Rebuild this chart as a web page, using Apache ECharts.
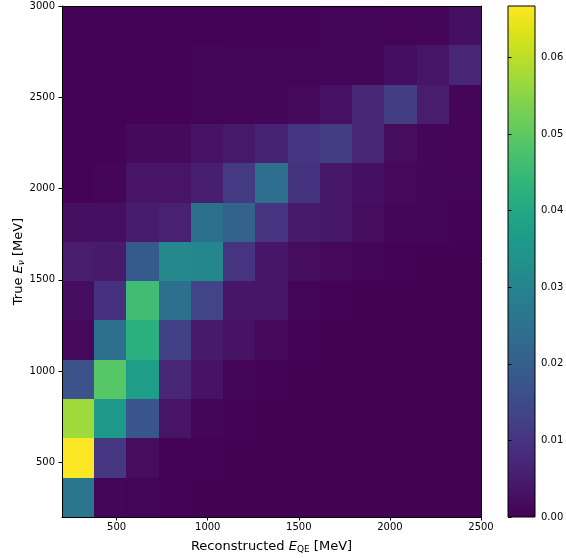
<!DOCTYPE html>
<html>
<head>
<meta charset="utf-8">
<script src="https://cdn.jsdelivr.net/npm/echarts@6/dist/echarts.min.js"></script>
<style>html,body{margin:0;padding:0;background:#fff}#c{width:566px;height:558px}</style>
</head>
<body>
<div id="c"></div>
<script>
// Bin edges (MeV)
const xEdges = [200, 376.9, 553.8, 730.8, 907.7, 1084.6, 1261.5, 1438.5, 1615.4, 1792.3, 1969.2, 2146.2, 2323.1, 2500];
const yEdges = [200, 415.4, 630.8, 846.2, 1061.5, 1276.9, 1492.3, 1707.7, 1923.1, 2138.5, 2353.8, 2569.2, 2784.6, 3000];
// Tick labels
const xTicks = [500, 1000, 1500, 2000, 2500];
const yTicks = [500, 1000, 1500, 2000, 2500, 3000];
const cbTicks = [0, 0.01, 0.02, 0.03, 0.04, 0.05, 0.06];
const cbMax = 0.0667;
// Cell values, one array per true-energy row (bottom to top), columns = reconstructed-energy bins
const row0  = [0.026, 0.0008, 0.0005, 0.0003, 0.0002, 0.0002, 0.0002, 0.0002, 0.0002, 0.0002, 0.0002, 0.0002, 0.0002];
const row1  = [0.0667, 0.0107, 0.002, 0.0004, 0.0003, 0.0002, 0.0002, 0.0002, 0.0002, 0.0002, 0.0002, 0.0002, 0.0002];
const row2  = [0.057, 0.036, 0.0175, 0.0035, 0.0008, 0.0003, 0.0002, 0.0002, 0.0002, 0.0002, 0.0002, 0.0002, 0.0002];
const row3  = [0.0167, 0.049, 0.037, 0.0073, 0.0033, 0.001, 0.0004, 0.0002, 0.0002, 0.0002, 0.0002, 0.0002, 0.0002];
const row4  = [0.0013, 0.0245, 0.042, 0.0127, 0.0047, 0.0033, 0.0013, 0.0003, 0.0002, 0.0002, 0.0002, 0.0002, 0.0002];
const row5  = [0.002, 0.0093, 0.046, 0.0245, 0.0135, 0.004, 0.0037, 0.0005, 0.0003, 0.0002, 0.0002, 0.0002, 0.0002];
const row6  = [0.0053, 0.0047, 0.0187, 0.031, 0.0307, 0.01, 0.004, 0.002, 0.0013, 0.0005, 0.0003, 0.0002, 0.0002];
const row7  = [0.0027, 0.0027, 0.005, 0.006, 0.0245, 0.021, 0.01, 0.0047, 0.0043, 0.002, 0.001, 0.0005, 0.0003];
const row8  = [0.0003, 0.001, 0.0035, 0.0035, 0.0057, 0.0113, 0.024, 0.0097, 0.0043, 0.0027, 0.0013, 0.0007, 0.0005];
const row9  = [0.0004, 0.0004, 0.0017, 0.0017, 0.0033, 0.0045, 0.0065, 0.0105, 0.012, 0.007, 0.0022, 0.0008, 0.0006];
const row10 = [0.0003, 0.0003, 0.0004, 0.0004, 0.0005, 0.0005, 0.0008, 0.0015, 0.003, 0.007, 0.0118, 0.0052, 0.001];
const row11 = [0.0003, 0.0003, 0.0003, 0.0003, 0.0008, 0.0005, 0.0005, 0.0005, 0.0005, 0.0008, 0.0025, 0.0037, 0.0068];
const row12 = [0.0004, 0.0004, 0.0004, 0.0004, 0.0004, 0.0004, 0.0004, 0.0004, 0.0005, 0.0005, 0.0006, 0.0008, 0.0027];
const rows = [row0, row1, row2, row3, row4, row5, row6, row7, row8, row9, row10, row11, row12];

const viridis = ['#440154','#471365','#482475','#463480','#414487','#3b528b','#355f8d','#2f6c8e','#2a788e','#25848e','#21918c','#1e9c89','#22a884','#2fb47c','#44bf70','#5ec962','#7ad151','#9bd93c','#bddf26','#dfe318','#fde725'];

const cells = [];
rows.forEach((r, j) => r.forEach((v, i) => {
  cells.push([(xEdges[i] + xEdges[i + 1]) / 2, (yEdges[j] + yEdges[j + 1]) / 2, v, i, j]);
}));

const FONT = 'DejaVu Sans';
const chart = echarts.init(document.getElementById('c'), null, {renderer: 'canvas'});
const blackLine = {show: true, lineStyle: {color: '#000', width: 1}};
const plain = v => String(v);

chart.setOption({
  animation: false,
  backgroundColor: '#fff',
  grid: [
    {left: 62, top: 6, width: 419, height: 511, containLabel: false, outerBoundsMode: 'none'},
    {left: 508, top: 6, width: 27, height: 511, containLabel: false, outerBoundsMode: 'none'}
  ],
  xAxis: [
    {
      gridIndex: 0, type: 'value', min: 200, max: 2500, position: 'bottom', z: 10,
      axisLine: blackLine,
      axisTick: {show: true, length: 3.5, lineStyle: {color: '#000'}, customValues: xTicks},
      axisLabel: {color: '#000', fontSize: 10, fontFamily: FONT, margin: 5, customValues: xTicks, formatter: plain},
      splitLine: {show: false},
      name: '{n|Reconstructed }{i|E}{s|QE}{n| [MeV]}',
      nameLocation: 'middle', nameGap: 23, nameMoveOverlap: false,
      nameTextStyle: {
        color: '#000', fontFamily: FONT, fontSize: 13,
        rich: {
          n: {fontSize: 13, fontFamily: FONT, color: '#000'},
          i: {fontSize: 13, fontFamily: FONT, fontStyle: 'italic', color: '#000'},
          s: {fontSize: 9, fontFamily: FONT, color: '#000', padding: [5, 0, 0, 0]}
        }
      }
    },
    {
      gridIndex: 0, type: 'value', min: 200, max: 2500, position: 'top', z: 10,
      axisLine: blackLine, axisTick: {show: false}, axisLabel: {show: false}, splitLine: {show: false}
    },
    {gridIndex: 1, type: 'value', min: 0, max: 1, show: false}
  ],
  yAxis: [
    {
      gridIndex: 0, type: 'value', min: 200, max: 3000, position: 'left', z: 10,
      axisLine: blackLine,
      axisTick: {show: true, length: 3.5, lineStyle: {color: '#000'}, customValues: yTicks},
      axisLabel: {color: '#000', fontSize: 10, fontFamily: FONT, margin: 7, customValues: yTicks, formatter: plain},
      splitLine: {show: false},
      name: '{n|True }{i|E}{s|ν}{n| [MeV]}',
      nameLocation: 'middle', nameGap: 36, nameRotate: 90, nameMoveOverlap: false,
      nameTextStyle: {
        color: '#000', fontFamily: FONT, fontSize: 13,
        rich: {
          n: {fontSize: 13, fontFamily: FONT, color: '#000'},
          i: {fontSize: 13, fontFamily: FONT, fontStyle: 'italic', color: '#000'},
          s: {fontSize: 9, fontFamily: FONT, fontStyle: 'italic', color: '#000', padding: [5, 0, 0, 0]}
        }
      }
    },
    {
      gridIndex: 0, type: 'value', min: 200, max: 3000, position: 'right', z: 10,
      axisLine: blackLine, axisTick: {show: false}, axisLabel: {show: false}, splitLine: {show: false}
    },
    {
      gridIndex: 1, type: 'value', min: 0, max: cbMax, position: 'right', z: 10,
      axisLine: {show: false},
      axisTick: {show: true, length: 3.5, lineStyle: {color: '#000'}, customValues: cbTicks},
      axisLabel: {color: '#000', fontSize: 10, fontFamily: FONT, margin: 6, customValues: cbTicks,
                  formatter: v => Number(v).toFixed(2)},
      splitLine: {show: false}
    }
  ],
  visualMap: {
    type: 'continuous', show: false, min: 0, max: cbMax, dimension: 2, seriesIndex: 0,
    inRange: {color: viridis}
  },
  series: [
    {
      type: 'custom', xAxisIndex: 0, yAxisIndex: 0,
      encode: {x: 0, y: 1},
      data: cells,
      renderItem: function (params, api) {
        const i = api.value(3), j = api.value(4);
        const p0 = api.coord([xEdges[i], yEdges[j]]);
        const p1 = api.coord([xEdges[i + 1], yEdges[j + 1]]);
        const x0 = Math.round(p0[0]), x1 = Math.round(p1[0]);
        const yb = Math.round(p0[1]), yt = Math.round(p1[1]);
        const c = api.visual('color');
        return {
          type: 'rect',
          shape: {x: x0, y: yt, width: x1 - x0, height: yb - yt},
          style: {fill: c}
        };
      }
    },
    {
      type: 'custom', xAxisIndex: 2, yAxisIndex: 2,
      data: [[0.5, cbMax / 2]],
      renderItem: function (params, api) {
        const p0 = api.coord([0, 0]);
        const p1 = api.coord([1, cbMax]);
        const stops = viridis.map((c, k) => ({offset: k / (viridis.length - 1), color: c}));
        return {
          type: 'rect',
          shape: {x: p0[0], y: p1[1], width: p1[0] - p0[0], height: p0[1] - p1[1]},
          style: {fill: new echarts.graphic.LinearGradient(0, 1, 0, 0, stops), stroke: '#000', lineWidth: 1}
        };
      }
    }
  ]
});
</script>
</body>
</html>
